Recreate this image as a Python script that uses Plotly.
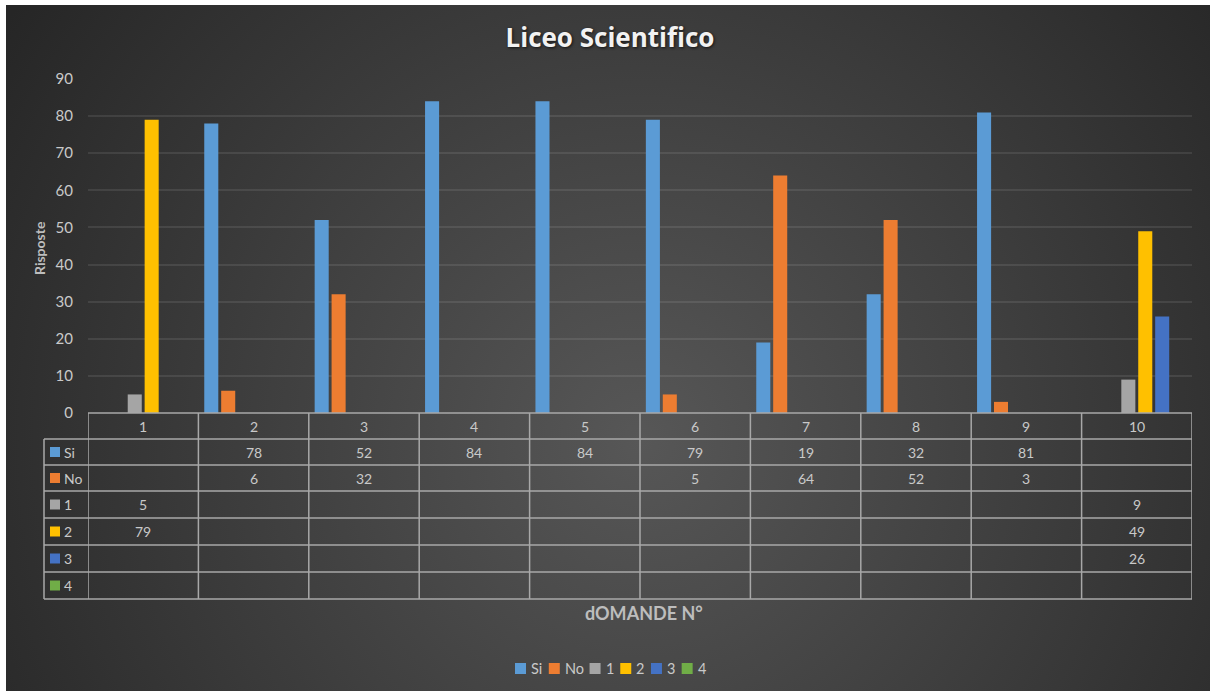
import base64
import plotly.graph_objects as go

# ---- data -------------------------------------------------------------
categories = ["1", "2", "3", "4", "5", "6", "7", "8", "9", "10"]
series_names = ["Si", "No", "1", "2", "3", "4"]
si_values = [None, 78, 52, 84, 84, 79, 19, 32, 81, None]
no_values = [None, 6, 32, None, None, 5, 64, 52, 3, None]
r1_values = [5, None, None, None, None, None, None, None, None, 9]
r2_values = [79, None, None, None, None, None, None, None, None, 49]
r3_values = [None, None, None, None, None, None, None, None, None, 26]
r4_values = [None, None, None, None, None, None, None, None, None, None]
y_ticks = [0, 10, 20, 30, 40, 50, 60, 70, 80, 90]

series_values = [si_values, no_values, r1_values, r2_values, r3_values, r4_values]
series_colors = ["#5B9BD5", "#ED7D31", "#A5A5A5", "#FFC000", "#4472C4", "#70AD47"]

# ---- geometry (pixels of the 1210x691 canvas) --------------------------
W, H = 1210, 691
PL, PR, PT, PB = 88, 1192, 79, 413          # plot area
ROW_EDGES = [413, 439, 465, 491, 518, 545, 572, 599]
TABLE_LEFT = 44
FONT = "Lato, 'Open Sans', sans-serif"
TITLE_FONT = "'Open Sans', Lato, sans-serif"
TEXT_COLOR = "#c9c9c9"
LINE_COLOR = "#a8a8a8"


def xp(px):
    return (px - PL) / (PR - PL)


def yp(py):
    return (PB - py) / (PB - PT)


def text_w(s, size=14):
    # rough advance widths for the legend labels
    widths = {"S": 0.53, "i": 0.24, "N": 0.72, "o": 0.55}
    return sum(widths.get(ch, 0.55) for ch in s) * size


fig = go.Figure()

for name, vals, col in zip(series_names, series_values, series_colors):
    fig.add_trace(go.Bar(
        x=list(range(1, len(categories) + 1)), y=vals, name=name,
        marker=dict(color=col, line=dict(width=0)),
        hoverinfo="x+y+name", showlegend=False,
    ))

# ---- background: dark radial gradient ----------------------------------
bw, bh = W - 6, H - 5
svg = (
    f'<svg xmlns="http://www.w3.org/2000/svg" width="{bw}" height="{bh}" '
    f'viewBox="0 0 {bw} {bh}" preserveAspectRatio="none">'
    '<defs><radialGradient id="g" gradientUnits="userSpaceOnUse" '
    f'cx="{640 - 6}" cy="{440 - 5}" r="760">'
    '<stop offset="0" stop-color="#575757"/>'
    '<stop offset="1" stop-color="#262626"/>'
    '</radialGradient></defs>'
    f'<rect width="{bw}" height="{bh}" fill="url(#g)"/></svg>'
)
bg_src = "data:image/svg+xml;base64," + base64.b64encode(svg.encode()).decode()

images = [dict(
    source=bg_src, xref="paper", yref="paper",
    x=xp(6), y=yp(5), sizex=xp(W + 2) - xp(6), sizey=yp(5) - yp(H + 2),
    xanchor="left", yanchor="top", sizing="stretch", layer="below",
)]

# ---- data table below the plot -----------------------------------------
shapes = []
annotations = []
line = dict(color=LINE_COLOR, width=1.5)

# horizontal rules
shapes.append(dict(type="line", xref="paper", yref="paper",
                   x0=xp(PL), x1=xp(PR), y0=yp(ROW_EDGES[0]), y1=yp(ROW_EDGES[0]), line=line))
for ry in ROW_EDGES[1:]:
    shapes.append(dict(type="line", xref="paper", yref="paper",
                       x0=xp(TABLE_LEFT), x1=xp(PR), y0=yp(ry), y1=yp(ry), line=line))
# vertical rules
shapes.append(dict(type="line", xref="paper", yref="paper",
                   x0=xp(TABLE_LEFT), x1=xp(TABLE_LEFT),
                   y0=yp(ROW_EDGES[1]), y1=yp(ROW_EDGES[-1]), line=line))
for i in range(len(categories) + 1):
    shapes.append(dict(type="line", xref="x", yref="paper",
                       x0=0.5 + i, x1=0.5 + i,
                       y0=yp(ROW_EDGES[0]), y1=yp(ROW_EDGES[-1]), line=line))

# header row: category numbers
hdr_y = yp((ROW_EDGES[0] + ROW_EDGES[1]) / 2)
for i, c in enumerate(categories):
    annotations.append(dict(x=i + 1, y=hdr_y, xref="x", yref="paper", text=c,
                            showarrow=False, font=dict(family=FONT, size=14, color=TEXT_COLOR),
                            xanchor="center", yanchor="middle"))

# series rows
for r, (name, vals, col) in enumerate(zip(series_names, series_values, series_colors)):
    top, bot = ROW_EDGES[r + 1], ROW_EDGES[r + 2]
    cy = (top + bot) / 2
    shapes.append(dict(type="rect", xref="paper", yref="paper",
                       x0=xp(50), x1=xp(60), y0=yp(cy - 5), y1=yp(cy + 5),
                       fillcolor=col, line=dict(width=0)))
    annotations.append(dict(x=xp(62), y=yp(cy), xref="paper", yref="paper", text=name,
                            showarrow=False, font=dict(family=FONT, size=14, color=TEXT_COLOR),
                            xanchor="left", yanchor="middle"))
    for i, v in enumerate(vals):
        if v is None:
            continue
        annotations.append(dict(x=i + 1, y=yp(cy), xref="x", yref="paper", text=str(v),
                                showarrow=False, font=dict(family=FONT, size=14, color=TEXT_COLOR),
                                xanchor="center", yanchor="middle"))

# legend along the bottom edge
leg_y = 668.5
lx = 515
for name, col in zip(series_names, series_colors):
    shapes.append(dict(type="rect", xref="paper", yref="paper",
                       x0=xp(lx), x1=xp(lx + 11), y0=yp(leg_y - 5.5), y1=yp(leg_y + 5.5),
                       fillcolor=col, line=dict(width=0)))
    annotations.append(dict(x=xp(lx + 14), y=yp(leg_y), xref="paper", yref="paper", text=name,
                            showarrow=False, font=dict(family=FONT, size=14.5, color=TEXT_COLOR),
                            xanchor="left", yanchor="middle"))
    lx += 14 + text_w(name) + 9

# axis titles
annotations.append(dict(x=xp(644), y=yp(613), xref="paper", yref="paper", text="<b>dOMANDE N°</b>",
                        showarrow=False, font=dict(family=FONT, size=18, color="#bdbdbd"),
                        xanchor="center", yanchor="middle"))
annotations.append(dict(x=xp(40), y=yp(248), xref="paper", yref="paper", text="<b>Risposte</b>",
                        showarrow=False, textangle=-90,
                        font=dict(family=FONT, size=14, color="#bdbdbd"),
                        xanchor="center", yanchor="middle"))

fig.update_layout(
    width=W, height=H,
    margin=dict(l=PL, r=W - PR, t=PT, b=H - PB, pad=0),
    paper_bgcolor="white", plot_bgcolor="rgba(0,0,0,0)",
    barmode="group", bargap=0.08, bargroupgap=0.17,
    showlegend=False,
    title=dict(text="<b>Liceo Scientifico</b>", x=610 / W, xanchor="center",
               y=1 - 38 / H, yanchor="middle", yref="container",
               font=dict(family=TITLE_FONT, size=26, color="#f2f2f2",
                         shadow="1px 1px 3px rgba(0,0,0,0.7)")),
    xaxis=dict(range=[0.5, len(categories) + 0.5], showticklabels=False, showgrid=False,
               zeroline=False, showline=False, ticks=""),
    yaxis=dict(range=[0, 90], tickvals=y_ticks, ticktext=[str(t) for t in y_ticks],
               showgrid=True, gridcolor="rgba(255,255,255,0.09)", gridwidth=1.5,
               zeroline=False, showline=False, ticks="", ticklabelstandoff=14,
               tickfont=dict(family=FONT, size=15, color=TEXT_COLOR)),
    images=images, shapes=shapes, annotations=annotations,
)

# keep the page exactly one figure tall
page_fix = (
    "var d=document.getElementById('{plot_id}');"
    "document.documentElement.style.margin='0';document.body.style.margin='0';"
    "document.documentElement.style.overflow='hidden';document.body.style.overflow='hidden';"
    "if(d&&d.parentElement){d.parentElement.style.height='691px';"
    "d.parentElement.style.overflow='hidden';}"
)
fig.write_html("out.html", post_script=page_fix)
